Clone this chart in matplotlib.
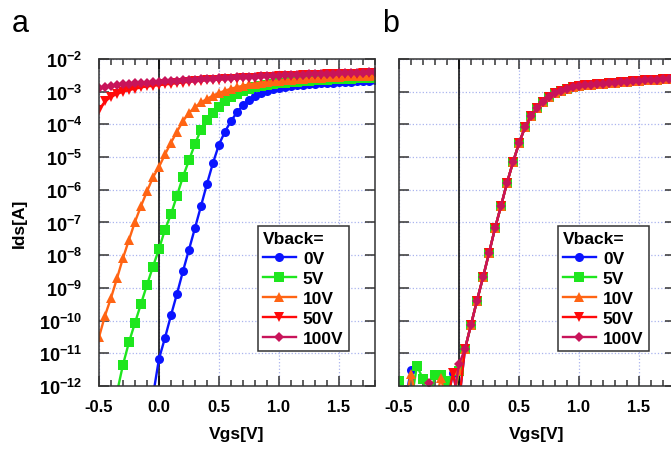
import numpy as np
import matplotlib
matplotlib.use("Agg")
import matplotlib.pyplot as plt
from matplotlib.ticker import FixedLocator, MultipleLocator, NullLocator, FuncFormatter

plt.rcParams['font.family'] = 'Liberation Sans'
plt.rcParams['font.weight'] = 'bold'
plt.rcParams['axes.unicode_minus'] = False
plt.rcParams['mathtext.fontset'] = 'custom'
plt.rcParams['mathtext.rm'] = 'Liberation Sans:bold'
plt.rcParams['mathtext.bf'] = 'Liberation Sans:bold'

# gate sweep, -0.5 .. 1.8 V in 0.05 V steps
vgs = np.round(np.arange(-0.5, 1.801, 0.05), 2)

labels = ['0V', '5V', '10V', '50V', '100V']
colors = ['#0a14ff', '#1ee61e', '#ff6414', '#ff0a0a', '#c8145a']
markers = ['o', 's', '^', 'v', 'D']
msizes = [6.5, 6.5, 7, 7, 5.5]

# panel a: log10(Ids)
a_0V = [-12.3, -11.17, -10.53, -9.84, -9.18, -8.49, -7.83, -7.17, -6.5, -5.82,
        -5.18, -4.62, -4.22, -3.9, -3.63, -3.42, -3.26, -3.14, -3.05, -2.98,
        -2.93, -2.89, -2.86, -2.83, -2.81, -2.79, -2.77, -2.76, -2.74, -2.73,
        -2.72, -2.71, -2.70, -2.69, -2.68, -2.67, -2.66, -2.65]          # from -0.05 V
a_5V = [-12.2, -11.35, -10.66, -10.07, -9.49, -8.91, -8.35, -7.81, -7.22, -6.75,
        -6.18, -5.6, -5.1, -4.6, -4.16, -3.87, -3.64, -3.46, -3.29, -3.16,
        -3.06, -2.98, -2.91, -2.86, -2.82, -2.79, -2.76, -2.74, -2.72, -2.70,
        -2.69, -2.68, -2.66, -2.65, -2.64, -2.63, -2.62, -2.61, -2.60, -2.60,
        -2.59, -2.58, -2.58, -2.57]                                        # from -0.35 V
a_10V = [-10.51, -9.85, -9.31, -8.71, -8.09, -7.53, -6.98, -6.5, -6.05, -5.62,
         -5.3, -4.92, -4.56, -4.22, -3.9, -3.65, -3.47, -3.33, -3.22, -3.12,
         -3.04, -2.97, -2.91, -2.86, -2.82, -2.78, -2.75, -2.72, -2.70, -2.68,
         -2.66, -2.64, -2.63, -2.61, -2.60, -2.59, -2.58, -2.57, -2.56, -2.55,
         -2.54, -2.53, -2.53, -2.52, -2.51, -2.51, -2.50]
a_50V = [-3.55, -3.3, -3.16, -3.07, -3.0, -2.95, -2.91, -2.87, -2.84, -2.82,
         -2.80, -2.78, -2.76, -2.74, -2.72, -2.70, -2.68, -2.67, -2.65, -2.64,
         -2.63, -2.62, -2.61, -2.60, -2.59, -2.58, -2.57, -2.56, -2.55, -2.54,
         -2.53, -2.52, -2.52, -2.51, -2.50, -2.49, -2.49, -2.48, -2.47, -2.47,
         -2.46, -2.46, -2.45, -2.45, -2.44, -2.44, -2.43]
a_100V = [-2.9, -2.86, -2.83, -2.80, -2.78, -2.76, -2.74, -2.73, -2.72, -2.70,
          -2.69, -2.68, -2.67, -2.66, -2.65, -2.64, -2.63, -2.62, -2.61, -2.60,
          -2.59, -2.58, -2.57, -2.56, -2.55, -2.54, -2.54, -2.53, -2.52, -2.51,
          -2.51, -2.50, -2.49, -2.49, -2.48, -2.47, -2.47, -2.46, -2.45, -2.45,
          -2.44, -2.43, -2.43, -2.42, -2.42, -2.41, -2.40]

# panel b: common curve from 0.05 V on, noisy floor below (-12.5 = below 1e-12)
b_on = [-10.87, -10.13, -9.39, -8.68, -7.94, -7.18, -6.5, -5.79, -5.16, -4.58,
        -4.09, -3.75, -3.51, -3.31, -3.17, -3.04, -2.97, -2.91, -2.87, -2.84,
        -2.81, -2.79, -2.77, -2.75, -2.73, -2.72, -2.70, -2.69, -2.68, -2.66,
        -2.65, -2.64, -2.63, -2.62, -2.61, -2.60]
b_0V_off = [-12.5, -12.5, -11.51, -12.5, -12.5, -12.5, -12.5, -12.5, -12.5, -11.6, -12.5]
b_5V_off = [-11.84, -12.5, -12.5, -11.38, -11.79, -12.5, -11.66, -11.66, -11.84, -12.5, -11.53]
b_10V_off = [-12.5, -12.5, -11.63, -12.5, -12.5, -12.5, -12.5, -11.77, -12.5, -12.5, -11.5]
b_50V_off = [-12.5, -12.5, -12.5, -12.5, -12.5, -12.5, -12.5, -12.5, -12.5, -11.6, -12.5]
b_100V_off = [-12.5, -12.5, -12.5, -12.5, -12.5, -11.92, -12.5, -12.5, -12.5, -12.5, -11.33]

a_series = [a_0V, a_5V, a_10V, a_50V, a_100V]
b_series = [b_0V_off, b_5V_off, b_10V_off, b_50V_off, b_100V_off]

fig = plt.figure(figsize=(6.71, 4.52), dpi=100)
axa = fig.add_axes([0.1475, 0.1438, 0.4113, 0.7235])
axb = fig.add_axes([0.5946, 0.1438, 0.4113, 0.7235])

for i in range(5):
    y = np.array(a_series[i])
    x = vgs[len(vgs) - len(y):]
    axa.plot(x, 10 ** y, color=colors[i], marker=markers[i], ms=msizes[i],
             mew=0, lw=1.7, label=labels[i])
    yb = np.array(b_series[i] + b_on)
    axb.plot(vgs, 10 ** yb, color=colors[i], marker=markers[i], ms=msizes[i],
             mew=0, lw=1.7, label=labels[i])


def sci(v, pos):
    return r'$\mathbf{10^{%d}}$' % int(round(np.log10(v)))


for ax in (axa, axb):
    ax.set_yscale('log')
    ax.set_ylim(1e-12, 1e-2)
    ax.set_xlim(-0.5, 1.8)
    ax.axvline(0, color='black', lw=1.1, zorder=1.8)
    ax.yaxis.set_major_locator(FixedLocator([10.0 ** k for k in range(-12, -1)]))
    ax.yaxis.set_minor_locator(NullLocator())
    ax.xaxis.set_major_locator(MultipleLocator(0.5))
    ax.xaxis.set_minor_locator(MultipleLocator(0.1))
    ax.xaxis.set_major_formatter(FuncFormatter(lambda v, p: '%.1f' % v))
    ax.grid(True, which='major', color='#aab4ee', ls=':', lw=0.9)
    ax.tick_params(which='both', direction='in', top=True, right=True,
                   width=1.1, color='#333333')
    ax.tick_params(which='major', length=7)
    ax.tick_params(which='minor', length=4)
    ax.tick_params(axis='x', labelsize=12, pad=9)
    for s in ax.spines.values():
        s.set_linewidth(1.1)
        s.set_color('#333333')
    ax.set_xlabel('Vgs[V]', fontsize=12.5, fontweight='bold', labelpad=9)
    leg = ax.legend(loc='upper right', bbox_to_anchor=(0.905, 0.49), title='Vback=',
                    alignment='left', fontsize=12.5, title_fontsize=12.5, numpoints=1,
                    handlelength=1.9, handletextpad=0.4, labelspacing=0.28,
                    borderpad=0.3, borderaxespad=0, fancybox=False, framealpha=1)
    leg.get_frame().set_edgecolor('#333333')
    leg.get_frame().set_linewidth(1.1)
    leg.get_title().set_fontweight('bold')

axa.yaxis.set_major_formatter(FuncFormatter(sci))
axa.tick_params(axis='y', labelsize=13, pad=12)
axa.set_ylabel('Ids[A]', fontsize=12.5, fontweight='bold')
axa.yaxis.set_label_coords(-0.26, 0.5)
axb.tick_params(axis='y', labelleft=False)

fig.text(0.018, 0.93, 'a', fontsize=22, fontweight='normal')
fig.text(0.570, 0.93, 'b', fontsize=22, fontweight='normal')

fig.savefig('out.png', dpi=100)
